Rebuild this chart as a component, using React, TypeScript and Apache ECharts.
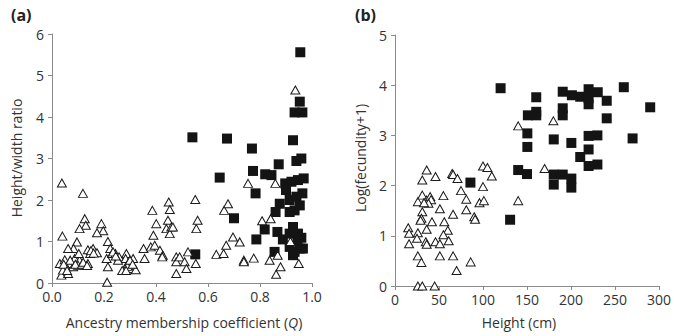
import React, { useEffect, useRef } from "react";
import * as echarts from "echarts";

const leftXTicks = [0, 0.2, 0.4, 0.6, 0.8, 1.0];
const leftSquares: number[][] = [
  [0.54, 3.51], [0.673, 3.48], [0.645, 2.54], [0.551, 0.69], [0.7, 1.56], [0.769, 3.24], [0.773, 2.7],
  [0.783, 2.16], [0.786, 1.05], [0.82, 2.62], [0.818, 1.29], [0.844, 2.6], [0.872, 2.86], [0.856, 0.75],
  [0.86, 1.71], [0.876, 1.91], [0.867, 1.23], [0.888, 1.05], [0.897, 2.4], [0.9, 2.24], [0.927, 3.44],
  [0.933, 4.11], [0.953, 4.37], [0.963, 4.11], [0.955, 5.56], [0.94, 2.94], [0.959, 3.0], [0.921, 2.44],
  [0.946, 2.48], [0.968, 2.52], [0.914, 2.0], [0.94, 2.08], [0.963, 2.16], [0.914, 1.71], [0.933, 1.75],
  [0.953, 1.87], [0.927, 1.35], [0.914, 1.19], [0.946, 1.19], [0.959, 1.09], [0.914, 0.87], [0.933, 0.75],
  [0.927, 0.67], [0.953, 0.83], [0.965, 0.83], [0.944, 1.03],
];
const leftTriangles: number[][] = [
  [0.038, 2.41], [0.04, 1.13], [0.119, 2.16], [0.126, 1.55], [0.13, 1.39], [0.106, 1.31], [0.096, 0.99],
  [0.19, 1.43], [0.197, 1.26], [0.173, 1.21], [0.215, 1.0], [0.083, 0.83], [0.062, 0.83], [0.138, 0.8],
  [0.158, 0.83], [0.173, 0.73], [0.147, 0.71], [0.03, 0.47], [0.049, 0.56], [0.068, 0.47], [0.087, 0.59],
  [0.106, 0.55], [0.126, 0.43], [0.055, 0.39], [0.036, 0.19], [0.062, 0.23], [0.081, 0.39], [0.1, 0.43],
  [0.042, 0.31], [0.138, 0.47], [0.103, 0.71], [0.212, 0.02], [0.215, 0.39], [0.21, 0.59], [0.224, 0.83],
  [0.231, 0.71], [0.244, 0.71], [0.258, 0.63], [0.286, 0.71], [0.283, 0.59], [0.292, 0.47], [0.28, 0.35],
  [0.3, 0.35], [0.312, 0.59], [0.322, 0.32], [0.254, 0.55], [0.352, 0.83], [0.356, 0.59], [0.386, 1.75],
  [0.401, 1.43], [0.39, 1.15], [0.38, 0.87], [0.395, 0.91], [0.415, 0.79], [0.426, 0.67], [0.424, 0.63],
  [0.446, 1.51], [0.44, 1.31], [0.453, 1.19], [0.459, 1.35], [0.465, 1.35], [0.449, 1.95], [0.453, 1.77],
  [0.478, 0.63], [0.478, 0.51], [0.478, 0.23], [0.491, 0.63], [0.51, 0.51], [0.517, 0.35], [0.523, 0.75],
  [0.551, 2.01], [0.555, 1.31], [0.56, 1.51], [0.553, 0.47], [0.632, 0.69], [0.66, 0.71], [0.67, 0.91],
  [0.662, 1.75], [0.677, 1.91], [0.696, 1.11], [0.722, 0.99], [0.738, 0.55], [0.738, 0.51], [0.776, 0.6],
  [0.754, 2.4], [0.808, 1.5], [0.841, 1.55], [0.859, 2.4], [0.837, 0.55], [0.862, 0.21], [0.879, 0.39],
  [0.868, 0.67], [0.949, 0.47], [0.936, 4.65], [0.917, 1.0], [0.07, 0.55], [0.09, 0.45], [0.115, 0.45],
  [0.045, 0.45], [0.058, 0.3], [0.12, 0.5], [0.135, 0.42], [0.15, 0.78], [0.16, 0.72], [0.29, 0.4],
  [0.3, 0.55], [0.27, 0.3], [0.285, 0.3], [0.31, 0.45], [0.235, 0.75], [0.245, 0.65],
];
const rightSquares: number[][] = [
  [120, 3.94], [160.5, 3.76], [151, 3.4], [160.5, 3.4], [160.5, 3.47], [190.6, 3.87], [190.6, 3.54],
  [190.6, 3.4], [201, 3.8], [210.5, 3.77], [220, 3.92], [220, 3.74], [220, 3.62], [230.4, 3.86],
  [240.6, 3.69], [240.6, 3.34], [260, 3.96], [290, 3.56], [270, 2.94], [150.4, 3.04], [150.4, 2.77],
  [180.4, 2.92], [200.4, 2.85], [220, 2.99], [230, 3.0], [220, 2.72], [210.5, 2.57], [220, 2.39],
  [230, 2.42], [140, 2.31], [150, 2.23], [180.4, 2.22], [190.6, 2.22], [200.4, 2.14], [180.4, 2.02],
  [200.4, 1.96], [85.7, 2.06], [130.8, 1.32],
];
const rightTriangles: number[][] = [
  [15, 1.16], [16, 1.05], [16, 0.84], [26, 1.06], [25, 0.95], [26, 0.6], [30, 0.47], [26, 0], [31, 0], [45, 0],
  [36, 2.31], [31, 2.11], [46, 2.18], [65, 2.24], [66, 2.22], [71, 2.14], [75, 1.9], [81, 1.73], [81, 1.52],
  [90, 1.38], [91, 1.33], [26, 1.68], [31, 1.81], [36, 1.71], [40, 1.78], [41, 1.72], [38, 1.65], [33, 1.66],
  [55, 1.8], [51, 1.54], [66, 1.43], [31, 1.48], [30, 1.35], [29, 1.31], [36, 1.13], [42, 1.28], [35, 0.88],
  [36, 0.83], [46, 0.88], [51, 0.84], [56, 1.28], [60, 1.11], [55, 1.02], [61, 0.9], [51, 0.6], [66, 0.6],
  [70, 0.31], [86, 0.48], [100, 2.39], [105, 2.36], [110, 2.19], [100, 1.98], [96, 1.66], [101, 1.7],
  [140, 3.19], [180, 3.29], [170, 2.34], [140, 1.7],
];

const FONT = "'Open Sans', 'Noto Sans', sans-serif";
const AXIS_GRAY = "#8a8a8a";
const TEXT = "#333333";

function axisCommon() {
  return {
    axisLine: { show: true, onZero: false, lineStyle: { color: AXIS_GRAY, width: 1 } },
    axisTick: { show: true, inside: false, length: 4, lineStyle: { color: AXIS_GRAY } },
    splitLine: { show: false },
    axisLabel: { color: TEXT, fontSize: 14, fontFamily: FONT },
  };
}

export default function App() {
  const ref = useRef<HTMLDivElement>(null);
  useEffect(() => {
    if (!ref.current) return;
    const chart = echarts.init(ref.current, undefined, { renderer: "svg" });
    const squareStyle = { color: "#141414", opacity: 1 };
    const triStyle = { color: "#ffffff", borderColor: "#1a1a1a", borderWidth: 1, opacity: 1 };
    chart.setOption({
      animation: false,
      backgroundColor: "#ffffff",
      grid: [
        { left: 52, top: 34, width: 260, height: 249 },
        { left: 395, top: 35, width: 266, height: 251 },
      ],
      xAxis: [
        {
          gridIndex: 0, type: "value", min: 0, max: 1, interval: 0.2, ...axisCommon(),
          axisLabel: { ...axisCommon().axisLabel, margin: 6, formatter: (v: number) => v.toFixed(1) },
        },
        {
          gridIndex: 1, type: "value", min: 0, max: 300, interval: 50, ...axisCommon(),
          axisLabel: { ...axisCommon().axisLabel, margin: 6 },
        },
      ],
      yAxis: [
        { gridIndex: 0, type: "value", min: 0, max: 6, interval: 1, ...axisCommon(),
          axisLabel: { ...axisCommon().axisLabel, margin: 8 } },
        { gridIndex: 1, type: "value", min: 0, max: 5, interval: 1, ...axisCommon(),
          axisLabel: { ...axisCommon().axisLabel, margin: 8 } },
      ],
      series: [
        { type: "scatter", xAxisIndex: 0, yAxisIndex: 0, data: leftSquares, symbol: "rect", symbolSize: 10, itemStyle: squareStyle, z: 2 },
        { type: "scatter", xAxisIndex: 0, yAxisIndex: 0, data: leftTriangles, symbol: "triangle", symbolSize: [9, 8], itemStyle: triStyle, z: 3 },
        { type: "scatter", xAxisIndex: 1, yAxisIndex: 1, data: rightSquares, symbol: "rect", symbolSize: 10, itemStyle: squareStyle, z: 2 },
        { type: "scatter", xAxisIndex: 1, yAxisIndex: 1, data: rightTriangles, symbol: "triangle", symbolSize: [9, 8], itemStyle: triStyle, z: 3 },
      ],
      graphic: [
        { type: "text", left: 11, top: 7, style: { text: "(a)", font: `bold 16px ${FONT}`, fill: "#222" } },
        { type: "text", left: 355, top: 7, style: { text: "(b)", font: `bold 16px ${FONT}`, fill: "#222" } },
        {
          type: "text", x: 184, y: 322,
          style: {
            text: "Ancestry membership coefficient ({i|Q})", font: `14px ${FONT}`, fill: TEXT,
            align: "center", verticalAlign: "middle",
            rich: { i: { fontStyle: "italic", fontSize: 14, fontFamily: FONT, fill: TEXT } },
          },
        },
        {
          type: "text", x: 16, y: 158, rotation: Math.PI / 2,
          style: { text: "Height/width ratio", font: `14px ${FONT}`, fill: TEXT, align: "center", verticalAlign: "middle" },
        },
        {
          type: "text", x: 519, y: 322,
          style: { text: "Height (cm)", font: `14px ${FONT}`, fill: TEXT, align: "center", verticalAlign: "middle" },
        },
        {
          type: "text", x: 360, y: 158, rotation: Math.PI / 2,
          style: { text: "Log(fecundity+1)", font: `14px ${FONT}`, fill: TEXT, align: "center", verticalAlign: "middle" },
        },
      ],
    });
    return () => chart.dispose();
  }, []);
  return <div ref={ref} style={{ width: 674, height: 336, position: "absolute", left: 0, top: 0 }} />;
}
